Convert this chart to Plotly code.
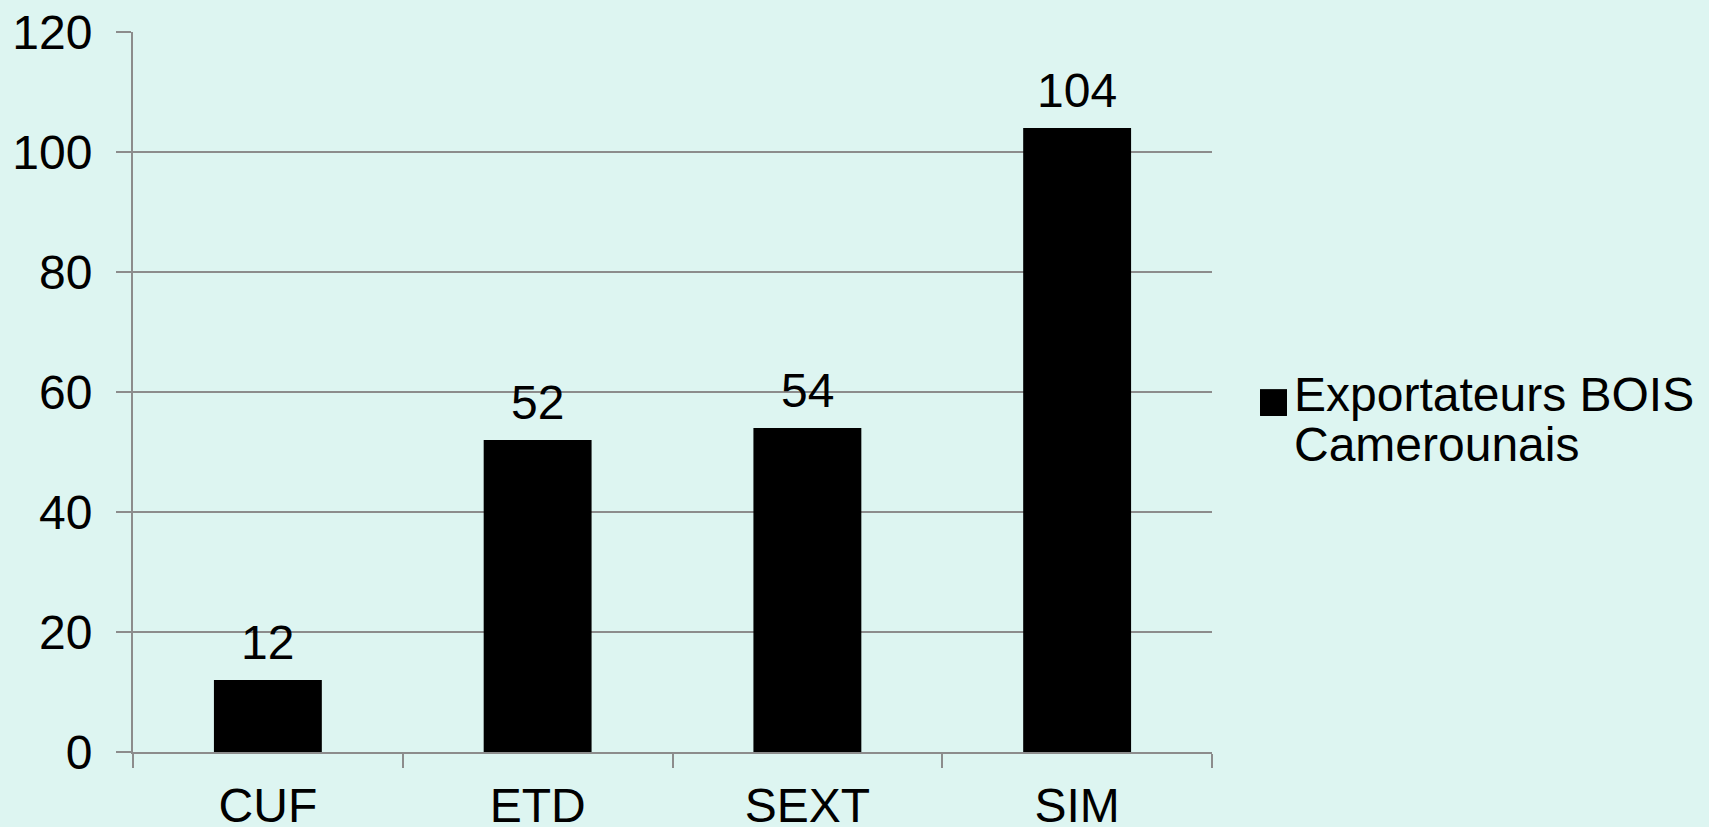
import plotly.graph_objects as go

# data
categories = ["CUF", "ETD", "SEXT", "SIM"]
values = [12, 52, 54, 104]
series_name = "Exportateurs BOIS Camerounais"
legend_lines = ["Exportateurs BOIS", "Camerounais"]
y_ticks = [0, 20, 40, 60, 80, 100, 120]

BG = "#DDF5F1"
GRID = "#8C8C8C"
FONT = "Liberation Sans, Arial, sans-serif"
FS = 48

fig = go.Figure()

fig.add_trace(
    go.Bar(
        x=categories,
        y=values,
        marker=dict(color="black", line=dict(width=0)),
        name=series_name,
        showlegend=False,
    )
)

# data labels above bars
for cat, val in zip(categories, values):
    fig.add_annotation(
        x=cat, y=val, text=str(val),
        showarrow=False, yanchor="bottom", yshift=9,
        font=dict(family=FONT, size=FS, color="black"),
    )

# legend drawn by hand (plotly's legend swatch is too small)
fig.add_shape(
    type="rect", xref="paper", yref="paper",
    x0=1.0445, x1=1.0695, y0=0.4667, y1=0.504,
    fillcolor="black", line=dict(width=0),
)
for i, line in enumerate(legend_lines):
    fig.add_annotation(
        xref="paper", yref="paper", x=1.074, y=0.497 - i * 0.0695,
        xanchor="left", yanchor="middle",
        text=line, showarrow=False, align="left",
        font=dict(family=FONT, size=FS, color="black"),
    )

fig.update_layout(
    width=1709,
    height=827,
    margin=dict(l=133, r=497, t=32, b=75, autoexpand=False),
    paper_bgcolor=BG,
    plot_bgcolor=BG,
    bargap=0.6,
    showlegend=False,
    font=dict(family=FONT, size=FS, color="black"),
)

fig.update_xaxes(
    type="category",
    automargin=False,
    showline=True, linecolor=GRID, linewidth=2,
    ticks="outside", tickson="boundaries", ticklen=14, tickwidth=2, tickcolor=GRID,
    ticklabelstandoff=10,
    showgrid=False,
    tickfont=dict(family=FONT, size=FS, color="black"),
)

fig.update_yaxes(
    range=[0, 120],
    tickvals=y_ticks,
    automargin=False,
    showline=True, linecolor=GRID, linewidth=2,
    ticks="outside", ticklen=15, tickwidth=2, tickcolor=GRID,
    ticklabelstandoff=14,
    showgrid=True, gridcolor=GRID, gridwidth=2,
    zeroline=False,
    tickfont=dict(family=FONT, size=FS, color="black"),
)

fig.write_html(
    "out.html",
    config={"displayModeBar": False},
    post_script="document.body.style.margin='0';",
)
